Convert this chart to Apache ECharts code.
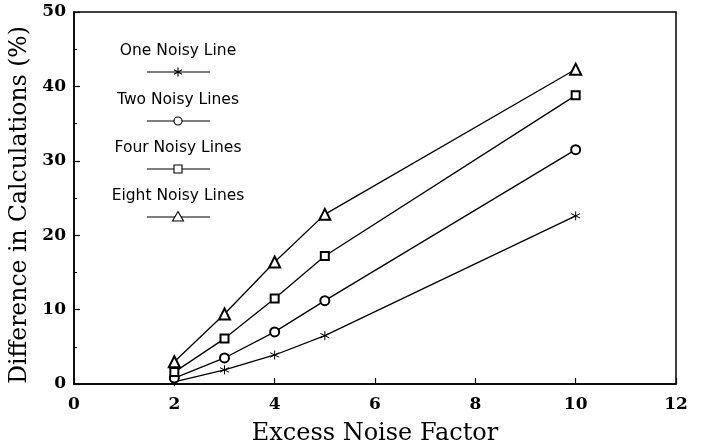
<!DOCTYPE html>
<html>
<head>
<meta charset="utf-8">
<script src="https://cdn.jsdelivr.net/npm/echarts@6/dist/echarts.min.js"></script>
<style>html,body{margin:0;padding:0;background:#fff;}#c{width:704px;height:447px;}</style>
</head>
<body>
<div id="c"></div>
<script>
const xValues = [2, 3, 4, 5, 10];
const oneNoisy = [0.3, 1.9, 3.9, 6.5, 22.6];
const twoNoisy = [0.8, 3.5, 7.0, 11.2, 31.5];
const fourNoisy = [1.6, 6.1, 11.5, 17.2, 38.8];
const eightNoisy = [3.0, 9.4, 16.4, 22.8, 42.3];
const seriesNames = ['One Noisy Line', 'Two Noisy Lines', 'Four Noisy Lines', 'Eight Noisy Lines'];
const xTicks = [0, 2, 4, 6, 8, 10, 12];
const yTicks = [0, 10, 20, 30, 40, 50];

const STAR = 'path://M0,-1L0,1M-0.87,-0.5L0.87,0.5M-0.87,0.5L0.87,-0.5';
const symbols = [STAR, 'emptyCircle', 'emptyRect', 'emptyTriangle'];
const sizes = [9, 9, 8, 11];
const allData = [oneNoisy, twoNoisy, fourNoisy, eightNoisy];

const chart = echarts.init(document.getElementById('c'));
const series = allData.map((vals, i) => ({
  name: seriesNames[i],
  type: 'line',
  data: vals.map((v, j) => [xValues[j], v]),
  symbol: symbols[i],
  symbolSize: sizes[i],
  showSymbol: true,
  lineStyle: {color: '#000', width: 1.3},
  itemStyle: {color: '#000', borderColor: '#000', borderWidth: 1},
  z: 3
}));

const legendTop = [51, 100, 148, 196];
const graphics = [];
seriesNames.forEach((n, i) => {
  const ty = legendTop[i];
  const ly = ty + 21;
  graphics.push({type: 'text', style: {x: 178, y: ty, text: n, font: '15.5px "DejaVu Sans"', fill: '#000', align: 'center', verticalAlign: 'middle', textAlign: 'center', textVerticalAlign: 'middle'}, z: 10});
  graphics.push({type: 'line', shape: {x1: 147, y1: ly, x2: 210, y2: ly}, style: {stroke: '#000', lineWidth: 1.1}, z: 10});
});
const mk = [];
legendTop.forEach((ty, i) => {
  const ly = ty + 21, cx = 178;
  if (i === 0) {
    mk.push({type: 'polyline', shape: {points: [[cx, ly - 4.5], [cx, ly + 4.5]]}, style: {stroke: '#000', lineWidth: 1.1}, z: 11});
    mk.push({type: 'polyline', shape: {points: [[cx - 3.9, ly - 2.25], [cx + 3.9, ly + 2.25]]}, style: {stroke: '#000', lineWidth: 1.1}, z: 11});
    mk.push({type: 'polyline', shape: {points: [[cx - 3.9, ly + 2.25], [cx + 3.9, ly - 2.25]]}, style: {stroke: '#000', lineWidth: 1.1}, z: 11});
  } else if (i === 1) {
    mk.push({type: 'circle', shape: {cx: cx, cy: ly, r: 4}, style: {fill: '#fff', stroke: '#000', lineWidth: 1.1}, z: 11});
  } else if (i === 2) {
    mk.push({type: 'rect', shape: {x: cx - 4, y: ly - 4, width: 8, height: 8}, style: {fill: '#fff', stroke: '#000', lineWidth: 1.1}, z: 11});
  } else {
    mk.push({type: 'polygon', shape: {points: [[cx, ly - 5.5], [cx + 5.5, ly + 4], [cx - 5.5, ly + 4]]}, style: {fill: '#fff', stroke: '#000', lineWidth: 1.1}, z: 11});
  }
});

const option = {
  backgroundColor: '#fff',
  animation: false,
  grid: {left: 74, right: 28, top: 12, bottom: 63, show: true, borderColor: '#000', borderWidth: 1.5, containLabel: false, outerBoundsMode: 'none'},
  xAxis: {
    type: 'value', min: xTicks[0], max: xTicks[xTicks.length - 1], interval: 2,
    name: 'Excess Noise Factor', nameLocation: 'middle', nameGap: 38,
    nameTextStyle: {fontFamily: 'DejaVu Serif', fontSize: 24, color: '#000'},
    axisLine: {lineStyle: {color: '#000', width: 1.5}},
    axisTick: {inside: true, length: 6, lineStyle: {color: '#000', width: 1.2}},
    axisLabel: {fontFamily: 'DejaVu Serif', fontSize: 17, fontWeight: 'bold', color: '#000', margin: 12},
    splitLine: {show: false}
  },
  yAxis: {
    type: 'value', min: yTicks[0], max: yTicks[yTicks.length - 1], interval: 10,
    name: 'Difference in Calculations (%)', nameLocation: 'middle', nameGap: 40,
    nameTextStyle: {fontFamily: 'DejaVu Serif', fontSize: 23.5, color: '#000', padding: [0, 14, 0, 0]},
    axisLine: {lineStyle: {color: '#000', width: 1.5}},
    axisTick: {inside: true, length: 6, lineStyle: {color: '#000', width: 1.2}},
    minorTick: {show: true, splitNumber: 2, length: 3, lineStyle: {color: '#000', width: 1}},
    axisLabel: {fontFamily: 'DejaVu Serif', fontSize: 17, fontWeight: 'bold', color: '#000', margin: 8},
    splitLine: {show: false}
  },
  graphic: graphics.concat(mk),
  series: series
};
chart.setOption(option);
</script>
</body>
</html>
